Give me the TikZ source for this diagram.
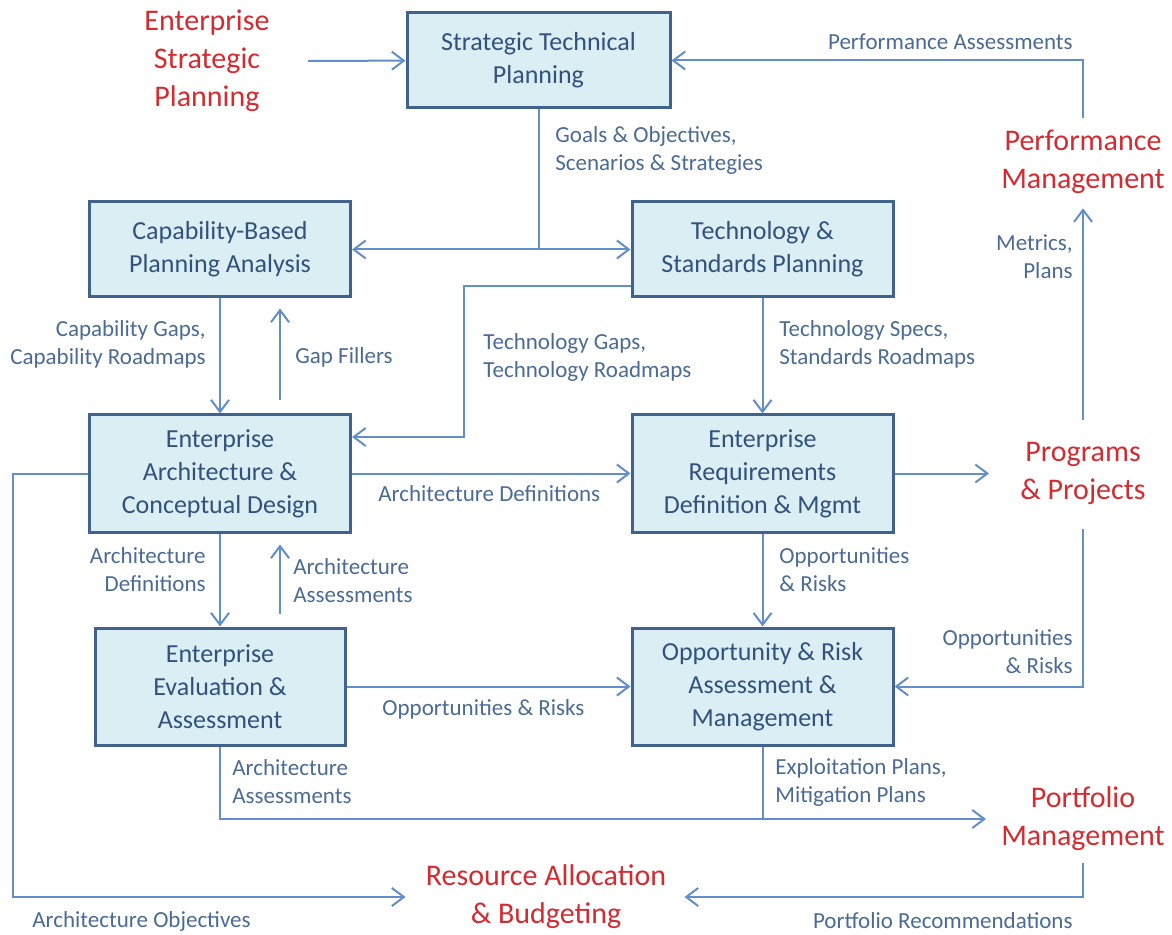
\documentclass[tikz,border=0pt]{standalone}
\usepackage{fontspec}
\setmainfont{Carlito}
\usetikzlibrary{positioning,arrows.meta}

\definecolor{boxfill}{RGB}{219,238,244}
\definecolor{boxline}{RGB}{65,98,140}
\definecolor{boxtext}{RGB}{50,82,124}
\definecolor{labeltext}{RGB}{75,106,148}
\definecolor{flowline}{RGB}{98,142,202}
\definecolor{redtext}{RGB}{212,42,48}

\begin{document}
\begin{tikzpicture}[x=0.5pt,y=-0.5pt,
    >={Straight Barb[length=6pt,width=9pt]},
    proc/.style={rectangle,draw=boxline,line width=1.5pt,fill=boxfill,text=boxtext,
      align=center,font=\fontsize{13}{16.5}\selectfont,
      minimum width=130.5pt,minimum height=47.5pt,inner sep=0pt},
    ext/.style={text=redtext,align=center,font=\fontsize{15}{19}\selectfont,inner sep=0pt},
    lbl/.style={text=labeltext,font=\fontsize{11.5}{14}\selectfont,inner sep=0pt},
    flow/.style={draw=flowline,line width=1pt}]
   \useasboundingbox (0,0) rectangle (1172,935);

   % process boxes
   \node[proc,minimum width=131.5pt] (stp) at (538.5,60.5) {Strategic Technical\\Planning};
   \node[proc] (cbpa) at (220,249.5) {Capability-Based\\Planning Analysis};
   \node[proc] (tsp) at (762.5,249.5) {Technology \&\\Standards Planning};
   \node[proc,minimum height=58.5pt] (eacd) at (220,473.5) {Enterprise\\Architecture \&\\Conceptual Design};
   \node[proc,minimum height=58.5pt] (erdm) at (762.5,473.5) {Enterprise\\Requirements\\Definition \& Mgmt};
   \node[proc,minimum height=58.5pt,minimum width=125pt] (eea) at (220,686.5) {Enterprise\\Evaluation \&\\Assessment};
   \node[proc,minimum height=58.5pt] (oram) at (762.5,686.5) {Opportunity \& Risk\\Assessment \&\\Management};

   % outside activities
   \node[ext] (esp) at (207,61) {Enterprise\\Strategic\\Planning};
   \node[ext] (pm) at (1083,162) {Performance\\Management};
   \node[ext] (pp) at (1083,473.5) {Programs\\\& Projects};
   \node[ext] (pfm) at (1083,819) {Portfolio\\Management};
   \node[ext] (rab) at (546,897) {Resource Allocation\\\& Budgeting};

   % connectors
   \draw[flow,->,shorten <=19pt] (esp) -- (stp);
   \draw[flow,->,shorten <=6pt] (pm.north) |- (stp.east);
   \coordinate (split) at (538.5,249.5);
   \draw[flow] (stp) -- (split);
   \draw[flow,->] (split) -- (cbpa);
   \draw[flow,->] (split) -- (tsp);
   \draw[flow,->] ([yshift=6pt]tsp.south west) -- ++(-167,0) |- ([yshift=18.25pt]eacd.east);
   \draw[flow,->] (cbpa) -- (eacd);
   \draw[flow,<-,shorten <=5pt,shorten >=6.5pt] ([xshift=30pt]cbpa.south) -- ([xshift=30pt]eacd.north);
   \draw[flow,->] (tsp) -- (erdm);
   \draw[flow,->] (eacd) -- (erdm);
   \draw[flow,->,shorten >=15.5pt] (erdm) -- (pp);
   \draw[flow,->,shorten <=11pt,shorten >=7pt] (pp) -- (pm);
   \draw[flow,->,shorten <=12pt] (pp.south) |- (oram.east);
   \draw[flow,->] (erdm) -- (oram);
   \draw[flow,->] (eacd) -- (eea);
   \draw[flow,<-,shorten <=5.5pt,shorten >=6.5pt] ([xshift=30pt]eacd.south) -- ([xshift=30pt]eea.north);
   \draw[flow,->] (eea) -- (oram);
   \draw[flow,->,shorten >=7.5pt] (eea.south) |- (pfm);
   \draw[flow] (oram.south) -- (oram.south |- pfm);
   \draw[flow,->,shorten >=10pt] (eacd.west) -- ++(-75,0) |- (rab);
   \draw[flow,->,shorten <=6pt,shorten >=9pt] (pfm.south) |- (rab);

   % connector labels
   \node[lbl,anchor=east] (lperf) at (1073,42) {Performance Assessments};
   \node[lbl,anchor=west,align=left] (lgoals) at (555,150) {Goals \& Objectives,\\Scenarios \& Strategies};
   \node[lbl,anchor=east,align=right] (lcapgap) at (206,344) {Capability Gaps,\\Capability Roadmaps};
   \node[lbl,anchor=west] (lgapfill) at (295,357) {Gap Fillers};
   \node[lbl,anchor=west,align=left] (ltechgap) at (483,357) {Technology Gaps,\\Technology Roadmaps};
   \node[lbl,anchor=west,align=left] (ltechspec) at (779,344) {Technology Specs,\\Standards Roadmaps};
   \node[lbl,anchor=west] (larchdef) at (378,494) {Architecture Definitions};
   \node[lbl,anchor=east,align=right] (lmetrics) at (1073,257) {Metrics,\\Plans};
   \node[lbl,anchor=west,align=left] (loppreq) at (779,570) {Opportunities\\\& Risks};
   \node[lbl,anchor=east,align=right] (lopppp) at (1073,652) {Opportunities\\\& Risks};
   \node[lbl,anchor=east,align=right] (larchdef2) at (206,570) {Architecture\\Definitions};
   \node[lbl,anchor=west,align=left] (larchass) at (293,581) {Architecture\\Assessments};
   \node[lbl,anchor=west] (loppeval) at (382,709) {Opportunities \& Risks};
   \node[lbl,anchor=west,align=left] (larchass2) at (232,782) {Architecture\\Assessments};
   \node[lbl,anchor=west,align=left] (lexploit) at (775,782) {Exploitation Plans,\\Mitigation Plans};
   \node[lbl,anchor=west] (larchobj) at (32,921) {Architecture Objectives};
   \node[lbl,anchor=east] (lportrec) at (1073,921) {Portfolio Recommendations};
\end{tikzpicture}
\end{document}
